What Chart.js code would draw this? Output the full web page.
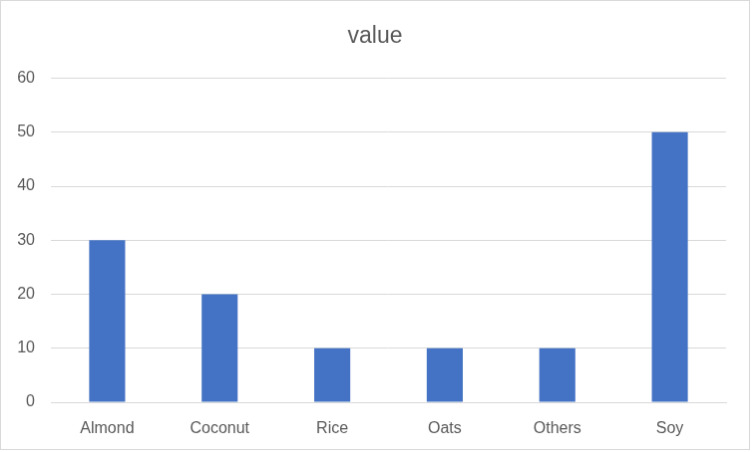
<!DOCTYPE html>
<html><head><meta charset="utf-8">
<script src="https://cdn.jsdelivr.net/npm/chart.js@4"></script>
<style>html,body{margin:0;padding:0;background:#fff}#c{display:block;border:1px solid #d9d9d9}</style>
</head><body><canvas id="c" width="750" height="450"></canvas>
<script>
const categories = ["Almond","Coconut","Rice","Oats","Others","Soy"];
const values = [30,20,10,10,10,50];
const yTicks = [0,10,20,30,40,50,60];
const font = "'Liberation Sans', Arial, sans-serif";
new Chart(document.getElementById('c'), {
  type: 'bar',
  data: { labels: categories, datasets: [{ label: 'value', data: values, backgroundColor: '#4472c4', categoryPercentage: 1, barPercentage: 0.32 }] },
  options: {
    responsive: false, animation: false,
    layout: { padding: 0 },
    plugins: {
      legend: { display: false }, tooltip: { enabled: false },
      title: { display: true, text: 'value', color: '#595959', font: { family: font, size: 23, weight: 'normal' }, padding: { top: 22, bottom: 28 } }
    },
    scales: {
      x: {
        grid: { display: false, drawTicks: false },
        border: { color: '#d9d9d9', width: 1 },
        ticks: { color: '#595959', font: { family: font, size: 16 }, padding: 17 },
        afterFit: s => { s.height = 47; }
      },
      y: {
        min: 0, max: 60,
        afterBuildTicks: s => { s.ticks = yTicks.map(v => ({ value: v })); },
        grid: { color: '#d9d9d9', drawTicks: false },
        border: { display: false },
        ticks: { color: '#595959', font: { family: font, size: 16 }, padding: 16 },
        afterFit: s => { s.width = 50; }
      },
      y2: {
        position: 'right', min: 0, max: 60,
        grid: { display: false, drawTicks: false },
        border: { display: false },
        ticks: { display: false },
        afterFit: s => { s.width = 23; }
      }
    }
  }
});
</script></body></html>
